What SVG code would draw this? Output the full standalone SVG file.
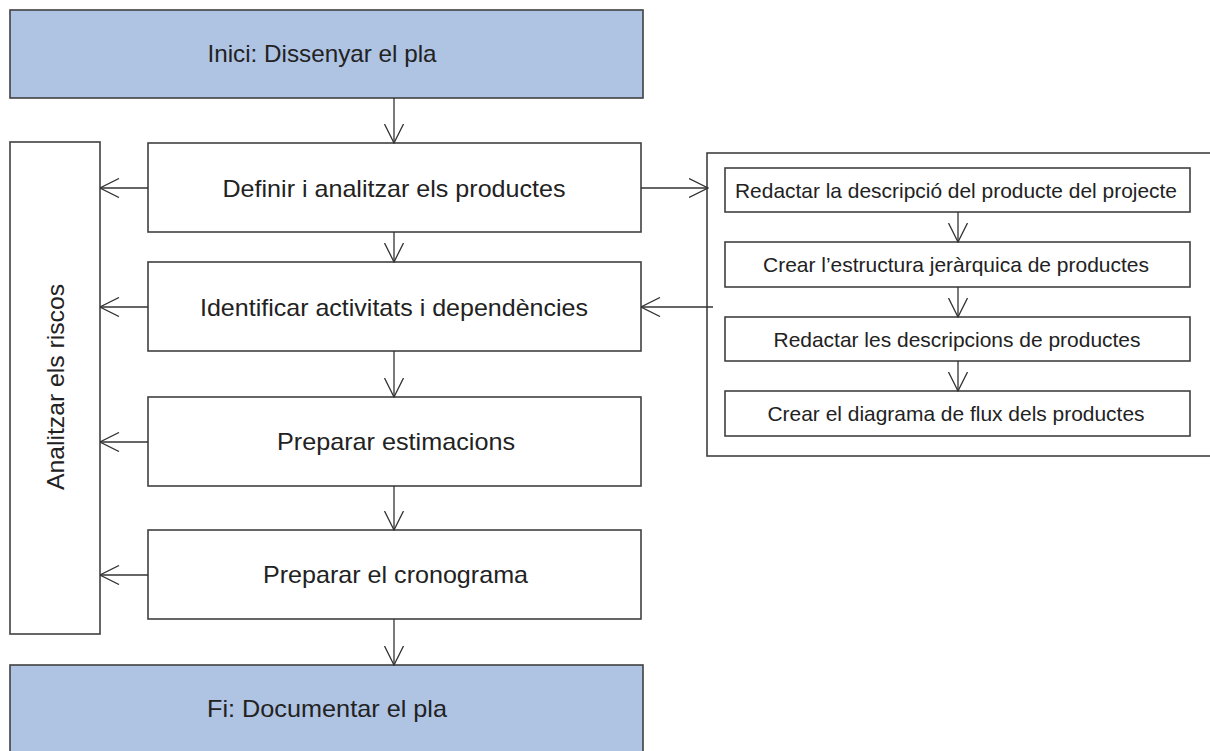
<svg xmlns="http://www.w3.org/2000/svg" width="1210" height="751" viewBox="0 0 1210 751">
  <defs>
    <!-- open V arrowhead used by every connector -->
    <marker id="open" viewBox="0 0 20 20" refX="19.5" refY="10" markerWidth="20" markerHeight="20" markerUnits="userSpaceOnUse" orient="auto">
      <path d="M0.5,0.5 L19.5,10 L0.5,19.5" fill="none" stroke="#333" stroke-width="1.3"/>
    </marker>
  </defs>
  <style>
    .box { fill: #ffffff; stroke: #404040; stroke-width: 1.6; }
    .term { fill: #afc3e3; stroke: #404040; stroke-width: 1.6; }
    .lbl { font-family: "Liberation Sans", Arial, sans-serif; font-size: 24px; fill: #222; text-anchor: middle; }
    .sub { font-family: "Liberation Sans", Arial, sans-serif; font-size: 21px; fill: #222; text-anchor: middle; }
    .edge { fill: none; stroke: #333; stroke-width: 1.3; marker-end: url(#open); }
  </style>
  <rect width="1210" height="751" fill="#ffffff"/>

  <g id="start">
    <rect class="term" x="10" y="10" width="633" height="88"/>
    <text class="lbl" x="322" y="62" textLength="229" lengthAdjust="spacingAndGlyphs">Inici: Dissenyar el pla</text>
  </g>
  <g id="risks">
    <rect class="box" x="10" y="142" width="90" height="492"/>
    <text class="lbl" transform="translate(64,387) rotate(-90)" x="0" y="0" textLength="206" lengthAdjust="spacingAndGlyphs">Analitzar els riscos</text>
  </g>
  <g id="define">
    <rect class="box" x="148" y="143" width="493" height="89"/>
    <text class="lbl" x="394" y="196.5" textLength="343" lengthAdjust="spacingAndGlyphs">Definir i analitzar els productes</text>
  </g>
  <g id="identify">
    <rect class="box" x="148" y="262" width="493" height="89"/>
    <text class="lbl" x="394" y="315.5" textLength="388" lengthAdjust="spacingAndGlyphs">Identificar activitats i dependències</text>
  </g>
  <g id="estimate">
    <rect class="box" x="148" y="397" width="493" height="89"/>
    <text class="lbl" x="396" y="450" textLength="238" lengthAdjust="spacingAndGlyphs">Preparar estimacions</text>
  </g>
  <g id="schedule">
    <rect class="box" x="148" y="530" width="493" height="89"/>
    <text class="lbl" x="395.5" y="583" textLength="265" lengthAdjust="spacingAndGlyphs">Preparar el cronograma</text>
  </g>
  <g id="end">
    <rect class="term" x="10" y="665" width="633" height="95"/>
    <text class="lbl" x="327" y="717" textLength="240" lengthAdjust="spacingAndGlyphs">Fi: Documentar el pla</text>
  </g>

  <g id="products">
    <rect class="box" x="707" y="153" width="520" height="303"/>
    <g id="p1">
      <rect class="box" x="725" y="168" width="465" height="44"/>
      <text class="sub" x="956" y="197.5" textLength="442" lengthAdjust="spacingAndGlyphs">Redactar la descripció del producte del projecte</text>
    </g>
    <g id="p2">
      <rect class="box" x="725" y="242" width="465" height="45"/>
      <text class="sub" x="956" y="272" textLength="386" lengthAdjust="spacingAndGlyphs">Crear l’estructura jeràrquica de productes</text>
    </g>
    <g id="p3">
      <rect class="box" x="725" y="317" width="465" height="44"/>
      <text class="sub" x="957" y="346.5" textLength="367" lengthAdjust="spacingAndGlyphs">Redactar les descripcions de productes</text>
    </g>
    <g id="p4">
      <rect class="box" x="725" y="391" width="465" height="45"/>
      <text class="sub" x="956" y="421" textLength="377" lengthAdjust="spacingAndGlyphs">Crear el diagrama de flux dels productes</text>
    </g>
  </g>

  <g id="connectors">
    <line class="edge" x1="394" y1="98" x2="394" y2="143"/>
    <line class="edge" x1="394" y1="232" x2="394" y2="262"/>
    <line class="edge" x1="394" y1="351" x2="394" y2="397"/>
    <line class="edge" x1="394" y1="486" x2="394" y2="530"/>
    <line class="edge" x1="394" y1="619" x2="394" y2="665"/>
    <line class="edge" x1="148" y1="188" x2="100" y2="188"/>
    <line class="edge" x1="148" y1="307" x2="100" y2="307"/>
    <line class="edge" x1="148" y1="442" x2="100" y2="442"/>
    <line class="edge" x1="148" y1="575" x2="100" y2="575"/>
    <line class="edge" x1="641" y1="188" x2="708" y2="188"/>
    <line class="edge" x1="713" y1="307" x2="641" y2="307"/>
    <line class="edge" x1="958" y1="212" x2="958" y2="242"/>
    <line class="edge" x1="958" y1="287" x2="958" y2="317"/>
    <line class="edge" x1="958" y1="361" x2="958" y2="391"/>
  </g>
</svg>
